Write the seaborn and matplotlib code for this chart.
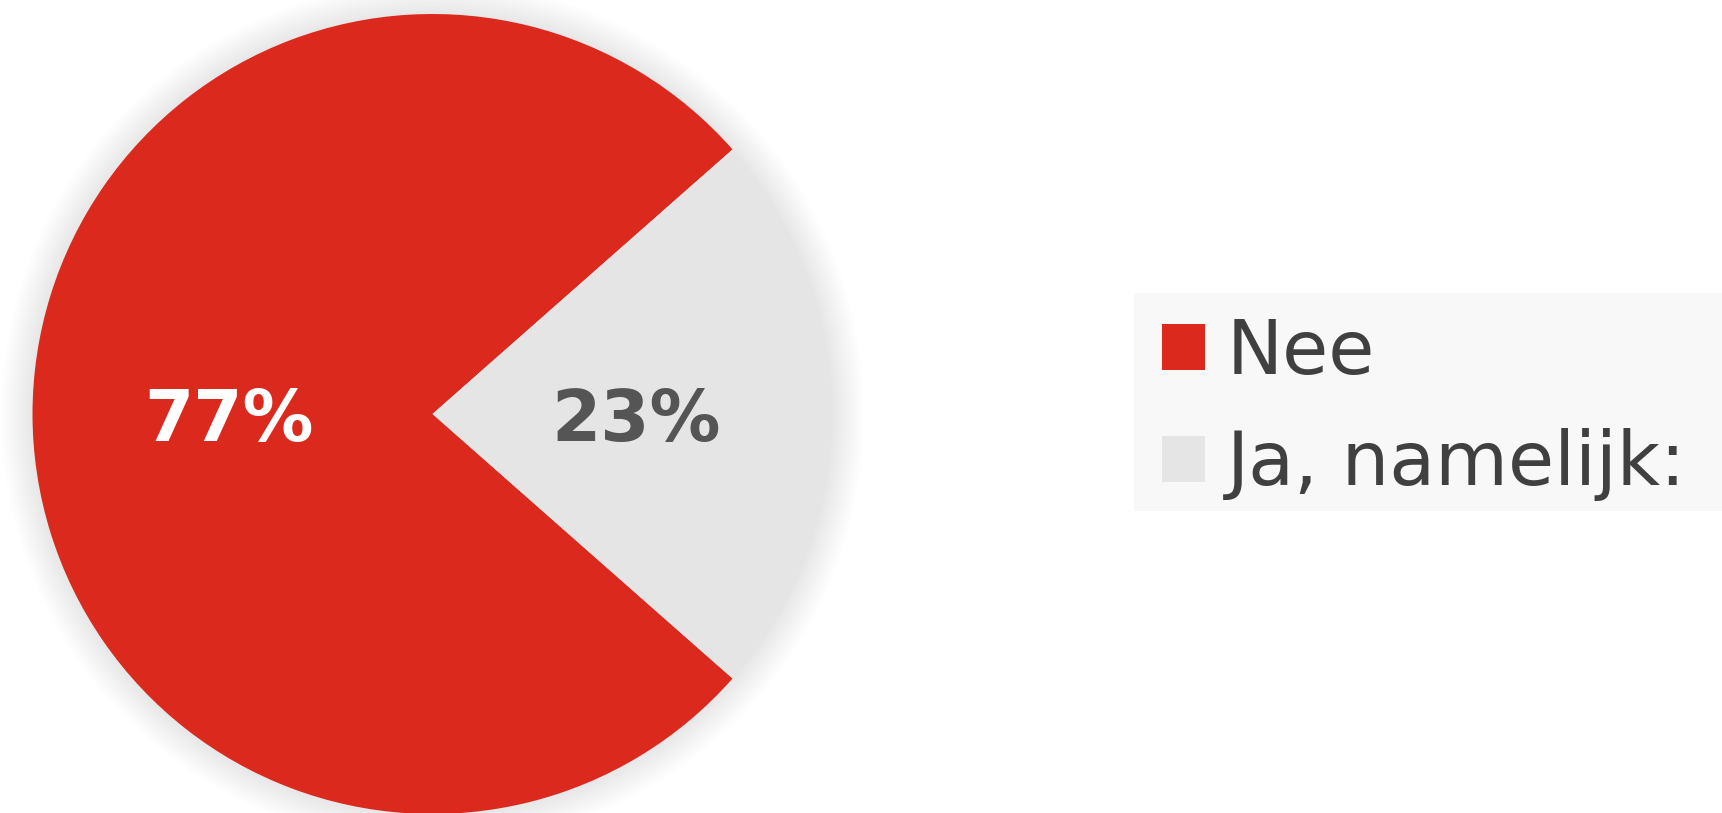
import matplotlib
matplotlib.use("Agg")
import matplotlib.pyplot as plt
from matplotlib.patches import Circle, Rectangle, Patch
import seaborn as sns

categories = ["Nee", "Ja, namelijk:"]
values = [77, 23]
colors = ["#DC291E", "#E5E5E5"]
label_colors = ["#FFFFFF", "#555555"]

sns.set_theme(style="white")
plt.rcParams["font.family"] = ["DejaVu Sans"]

W, H = 1722, 813
fig = plt.figure(figsize=(W / 100, H / 100), dpi=100)
fig.patch.set_facecolor("white")

cx, cy, r = 432.5, 813 - 414, 400.0
half = 440.0
ax = fig.add_axes([(cx - half) / W, (cy - half) / H, 2 * half / W, 2 * half / H])

# soft shadow
n = 24
for i in range(n):
    rr = 1.0 + 0.08 * (i + 1) / n
    ax.add_patch(Circle((0, 0), rr, facecolor="#000000", alpha=0.0055, edgecolor="none", zorder=0))

wedges, texts, autotexts = ax.pie(
    values, colors=colors, startangle=41.4, counterclock=True,
    autopct="%d%%", pctdistance=0.51, radius=1.0,
    wedgeprops=dict(edgecolor="none", linewidth=0),
)
for t, c in zip(autotexts, label_colors):
    t.set_color(c)
    t.set_fontsize(51)
    t.set_fontfamily(["DejaVu Sans"])
    t.set_fontweight("bold")
    x, y = t.get_position()
    t.set_position((x, y - 0.018))
for w in wedges:
    w.set_zorder(2)

ax.set_xlim(-1.1, 1.1)
ax.set_ylim(-1.1, 1.1)
ax.set_aspect("equal")
ax.axis("off")

# legend background
fig.patches.append(Rectangle((1134 / W, (813 - 511) / H), (W - 1134) / W + 0.01, 218 / H,
                             transform=fig.transFigure, facecolor="#F8F8F8", edgecolor="none", zorder=0))

handles = [Patch(facecolor=c, edgecolor="none", label=l) for c, l in zip(colors, categories)]
leg = fig.legend(handles=handles, loc="center left", bbox_to_anchor=(1162 / W, (813 - 409) / H),
                 frameon=False, fontsize=54, handlelength=0.57, handleheight=0.57,
                 handletextpad=0.29, labelspacing=0.51, borderpad=0, borderaxespad=0)
for t in leg.get_texts():
    t.set_color("#404040")

fig.savefig("out.png", dpi=100, facecolor="white")
